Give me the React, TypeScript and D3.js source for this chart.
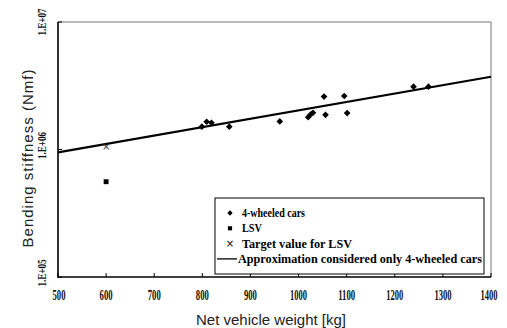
import * as d3 from "d3";
import React from "react";

// 4-wheeled cars: net weight [kg] and bending stiffness [Nm]
const carWeight = [799, 809, 819, 856, 961, 1020, 1025, 1030, 1053, 1056, 1095, 1101, 1239, 1270];
const carStiffness = [1.51e6, 1.65e6, 1.62e6, 1.51e6, 1.66e6, 1.79e6, 1.88e6, 1.94e6, 2.6e6, 1.87e6, 2.63e6, 1.93e6, 3.11e6, 3.11e6];

// LSV measured and target
const lsvWeight = [600];
const lsvStiffness = [5.59e5];
const targetWeight = [600];
const targetStiffness = [1.06e6];

// approximation line (fit on 4-wheeled cars), end points
const fitWeight = [500, 1400];
const fitStiffness = [9.5e5, 3.72e6];

const xTicks = [500, 600, 700, 800, 900, 1000, 1100, 1200, 1300, 1400];
const yTicks = [1e5, 1e6, 1e7];
const yTickLabels = ["1.E+05", "1.E+06", "1.E+07"];

const legendLabels = [
  "4-wheeled cars",
  "LSV",
  "Target value for LSV",
  "Approximation considered only 4-wheeled cars",
];
const legendWidths = [63, 20, 110, 244];

const W = 507;
const H = 328;
const m = { left: 58, right: 16, top: 22, bottom: 51 };

export default function App() {
  const x = d3.scaleLinear().domain([500, 1400]).range([m.left, W - m.right]);
  const y = d3.scaleLog().domain([1e5, 1e7]).range([H - m.bottom, m.top]);
  const fit = d3
    .line<number>()
    .x((d) => x(d))
    .y((d, i) => y(fitStiffness[i]));
  // rotated square reads closer to the original's markers than symbolDiamond
  const diamond = d3.symbol().type(d3.symbolSquare).size(22)();
  const square = d3.symbol().type(d3.symbolSquare).size(24)();
  const x0 = x.range()[0];
  const x1 = x.range()[1];
  const y0 = y.range()[0];
  const y1 = y.range()[1];

  // legend placement
  const lx = 215;
  const ly = 198;
  const lw = 269;
  const lh = 76;
  const rowH = 15.3;

  return (
    <svg
      width={W}
      height={H}
      style={{ position: "absolute", left: 0, top: 0, background: "#fff" }}
    >
      {/* frame */}
      <line x1={x0} x2={x1} y1={y1} y2={y1} stroke="#777" strokeWidth={1} />
      <line x1={x1} x2={x1} y1={y1} y2={y0} stroke="#777" strokeWidth={1} />
      <line x1={x0} x2={x0} y1={y1} y2={y0 + 1} stroke="#000" strokeWidth={1.6} />
      <line x1={x0} x2={x1} y1={y0} y2={y0} stroke="#000" strokeWidth={1.6} />

      {/* x ticks */}
      {xTicks.map((t) => (
        <g key={t}>
          <line x1={x(t)} x2={x(t)} y1={y0} y2={y0 - 4} stroke="#000" />
          <text
            x={x(t) + (t === 500 ? 1 : t === 1400 ? -2 : 0)}
            y={y0 + 23}
            textAnchor="middle"
            fontFamily="Liberation Serif"
            fontWeight="bold"
            fontSize={14}
            textLength={t >= 1000 ? 17 : 13}
            lengthAdjust="spacingAndGlyphs"
            fill="#111"
          >
            {t}
          </text>
        </g>
      ))}

      {/* y ticks */}
      {yTicks.map((t, i) => (
        <g key={t}>
          <line x1={x0} x2={x0 + 4} y1={y(t)} y2={y(t)} stroke="#000" />
          <text
            transform={`translate(46,${y(t) - 4 + (i === 2 ? 4 : 0)}) rotate(-90)`}
            textAnchor="middle"
            fontFamily="Liberation Serif"
            fontWeight="bold"
            fontSize={12}
            textLength={27}
            lengthAdjust="spacingAndGlyphs"
            fill="#111"
          >
            {yTickLabels[i]}
          </text>
        </g>
      ))}

      {/* axis titles */}
      <text
        transform={`translate(33,${(y0 + y1) / 2 + 9}) rotate(-90)`}
        textAnchor="middle"
        fontFamily="Liberation Sans"
        fontSize={15}
        textLength={178}
        lengthAdjust="spacing"
        fill="#222"
      >
        Bending stiffness (Nmf)
      </text>
      <text
        x={271}
        y={325}
        textAnchor="middle"
        fontFamily="Liberation Sans"
        fontSize={15}
        fill="#222"
      >
        Net vehicle weight [kg]
      </text>

      {/* fit line */}
      <path d={fit(fitWeight) || ""} fill="none" stroke="#000" strokeWidth={2.2} />

      {/* 4-wheeled cars */}
      {carWeight.map((w, i) => (
        <path
          key={i}
          d={diamond}
          transform={`translate(${x(w)},${y(carStiffness[i])}) rotate(45)`}
          fill="#000"
        />
      ))}
      {/* LSV */}
      {lsvWeight.map((w, i) => (
        <path key={i} d={square} transform={`translate(${x(w)},${y(lsvStiffness[i])})`} fill="#000" />
      ))}
      {/* target */}
      {targetWeight.map((w, i) => (
        <text
          key={i}
          x={x(w)}
          y={y(targetStiffness[i]) + 3.5}
          textAnchor="middle"
          fontFamily="DejaVu Sans"
          fontSize={10}
          fill="#333"
        >
          ×
        </text>
      ))}

      {/* legend */}
      <rect x={lx} y={ly} width={lw} height={lh} fill="#fff" stroke="#000" strokeWidth={1} />
      <path d={diamond} transform={`translate(${lx + 15},${ly + 15}) rotate(45) scale(0.8)`} fill="#000" />
      <path d={square} transform={`translate(${lx + 15},${ly + 15 + rowH}) scale(0.85)`} fill="#000" />
      <text
        x={lx + 15}
        y={ly + 15 + rowH * 2 + 3.5}
        textAnchor="middle"
        fontFamily="DejaVu Sans"
        fontSize={10}
      >
        ×
      </text>
      <line
        x1={lx + 2}
        x2={lx + 22}
        y1={ly + 15 + rowH * 3}
        y2={ly + 15 + rowH * 3}
        stroke="#000"
        strokeWidth={1.3}
      />
      {legendLabels.map((l, i) => (
        <text
          key={l}
          x={i === 3 ? lx + 23 : lx + 27}
          y={ly + 19 + rowH * i}
          fontFamily="Liberation Serif"
          fontWeight="bold"
          fontSize={11.5}
          textLength={legendWidths[i]}
          lengthAdjust="spacingAndGlyphs"
        >
          {l}
        </text>
      ))}
    </svg>
  );
}
